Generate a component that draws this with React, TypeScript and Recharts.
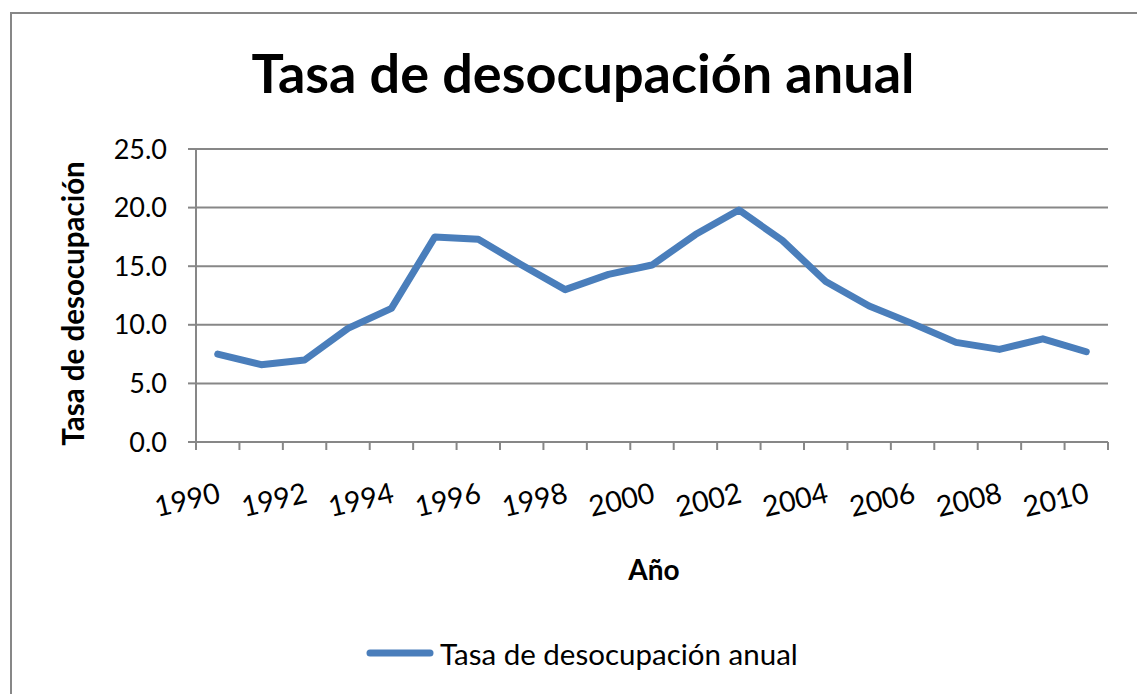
import React from 'react';
import { LineChart, Line, XAxis, YAxis, CartesianGrid, Legend } from 'recharts';

// Tasa de desocupación anual, 1990 - 2010
const years = [1990, 1991, 1992, 1993, 1994, 1995, 1996, 1997, 1998, 1999, 2000,
  2001, 2002, 2003, 2004, 2005, 2006, 2007, 2008, 2009, 2010];
const rates = [7.5, 6.6, 7.0, 9.7, 11.4, 17.5, 17.3, 15.1, 13.0, 14.3, 15.1,
  17.7, 19.8, 17.2, 13.7, 11.6, 10.1, 8.5, 7.9, 8.8, 7.7];
const yTicks = [0, 5, 10, 15, 20, 25];
const labelYears = [1990, 1992, 1994, 1996, 1998, 2000, 2002, 2004, 2006, 2008, 2010];

const seriesName = 'Tasa de desocupación anual';
const FONT = 'Lato, "Open Sans", sans-serif';
const GRAY = '#878787';
const BLUE = '#4A7EBB';

const data = years.map((year, i) => ({ year, rate: rates[i] }));
// category boundaries: ticks sit between years like Excel's category axis
const boundaries = [...years.map((y) => y - 0.5), years[years.length - 1] + 0.5];

const YearTick = (props: any) => {
  const { x, y, payload } = props;
  const ty = y + 50;
  return (
    <text
      x={x + 4}
      y={ty}
      transform={`rotate(-13, ${x + 4}, ${ty})`}
      textAnchor="end"
      fontFamily={FONT}
      fontSize={28.5}
      fill="#000"
    >
      {payload.value}
    </text>
  );
};

const LegendContent = () => (
  <div style={{ display: 'flex', alignItems: 'center', fontFamily: FONT, fontSize: 29.5, color: '#000', height: 30 }}>
    <svg width={70} height={20}>
      <line x1={4} y1={10} x2={64} y2={10} stroke={BLUE} strokeWidth={7} strokeLinecap="round" />
    </svg>
    <span style={{ marginLeft: 4 }}>{seriesName}</span>
  </div>
);

const App = () => {
  return (
    <div style={{ position: 'relative', width: 1137, height: 686, overflow: 'hidden', background: '#fff' }}>
      <div
        style={{
          position: 'absolute', left: 2, top: 4, width: 1300, height: 900,
          border: `2px solid ${GRAY}`, boxSizing: 'border-box',
        }}
      />
      <div
        style={{
          position: 'absolute', left: 0, top: 33, width: 1150, textAlign: 'center',
          fontFamily: FONT, fontWeight: 700, fontSize: 54, color: '#000', lineHeight: '64px',
        }}
      >
        {seriesName}
      </div>
      <LineChart
        width={1137}
        height={686}
        data={data}
        margin={{ top: 141, right: 37, left: 0, bottom: 112 }}
        style={{ position: 'absolute', left: 0, top: 0 }}
      >
        <CartesianGrid vertical={false} stroke={GRAY} strokeWidth={2} />
        <XAxis
          type="number"
          dataKey="year"
          domain={[1989.5, 2010.5]}
          ticks={boundaries}
          interval={0}
          tick={() => <g />}
          tickSize={8}
          height={10}
          axisLine={{ stroke: GRAY, strokeWidth: 2 }}
          tickLine={{ stroke: GRAY, strokeWidth: 2 }}
        />
        <XAxis
          xAxisId="lbl"
          type="number"
          dataKey="year"
          domain={[1989.5, 2010.5]}
          ticks={labelYears}
          interval={0}
          tick={<YearTick />}
          tickSize={0}
          tickMargin={0}
          height={100}
          axisLine={false}
          tickLine={false}
          label={{
            content: (p: any) => (
              <text
                x={p.viewBox.x + p.viewBox.width / 2 + 2}
                y={572}
                textAnchor="middle"
                fontFamily={FONT}
                fontWeight={700}
                fontSize={28}
                fill="#000"
              >
                Año
              </text>
            ),
          }}
        />
        <YAxis
          domain={[0, 25]}
          ticks={yTicks}
          interval={0}
          width={188}
          tickSize={8}
          tickMargin={21}
          tickFormatter={(v: number) => v.toFixed(1)}
          tick={{ fontFamily: FONT, fontSize: 27, fill: '#000' }}
          axisLine={{ stroke: GRAY, strokeWidth: 2 }}
          tickLine={{ stroke: GRAY, strokeWidth: 2 }}
          label={{
            content: (p: any) => {
              const cx = 64;
              const cy = p.viewBox.y + p.viewBox.height / 2 + 8;
              return (
                <text
                  x={cx}
                  y={cy}
                  transform={`rotate(-90, ${cx}, ${cy})`}
                  textAnchor="middle"
                  dominantBaseline="central"
                  fontFamily={FONT}
                  fontWeight={700}
                  fontSize={29.5}
                  fill="#000"
                >
                  Tasa de desocupación
                </text>
              );
            },
          }}
        />
        <Legend
          layout="vertical"
          align="center"
          verticalAlign="bottom"
          content={<LegendContent />}
          wrapperStyle={{ position: 'absolute', top: 630, left: 358, width: 600, bottom: 'auto' }}
        />
        <Line
          type="linear"
          dataKey="rate"
          name={seriesName}
          stroke={BLUE}
          strokeWidth={7}
          strokeLinejoin="round"
          strokeLinecap="round"
          dot={false}
          activeDot={false}
          isAnimationActive={false}
        />
      </LineChart>
    </div>
  );
};

export default App;
